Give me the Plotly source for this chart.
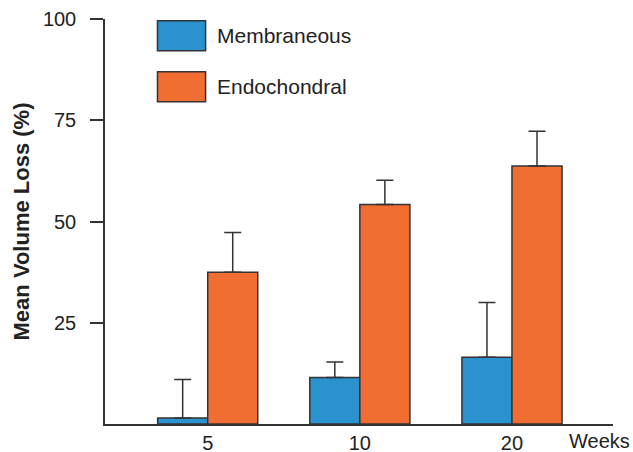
import plotly.graph_objects as go

weeks = ["5", "10", "20"]
series_names = ["Membraneous", "Endochondral"]
membraneous = [1.5, 11.5, 16.5]
membraneous_err = [9.5, 3.8, 13.5]
endochondral = [37.5, 54.2, 63.7]
endochondral_err = [9.8, 6.0, 8.6]
y_ticks = [25, 50, 75, 100]
x_unit_label = "Weeks"
y_title = "Mean Volume Loss (%)"

colors = ["#2A92CF", "#F06E31"]
edge = "#333333"
font_family = "Liberation Sans, Arial, Helvetica, sans-serif"
text_color = "#222222"

fig = go.Figure()
for name, vals, errs, col in [
    (series_names[0], membraneous, membraneous_err, colors[0]),
    (series_names[1], endochondral, endochondral_err, colors[1]),
]:
    fig.add_trace(go.Bar(
        name=name, x=weeks, y=vals,
        marker=dict(color=col, line=dict(color=edge, width=1.5)),
        error_y=dict(type="data", symmetric=False, array=errs,
                     arrayminus=[0] * len(errs),
                     color=edge, thickness=1.5, width=8.5),
        showlegend=False,
    ))

# Custom legend (large swatches)
sw_x0, sw_x1, txt_x = 0.1033, 0.198, 0.2165
rows = [(0.9958, 0.9217), (0.8699, 0.7958)]
for (y1, y0), name, col in zip(rows, series_names, colors):
    fig.add_shape(type="rect", xref="paper", yref="paper",
                  x0=sw_x0, x1=sw_x1, y0=y0, y1=y1,
                  fillcolor=col, line=dict(color=edge, width=1.5))
    fig.add_annotation(xref="paper", yref="paper", x=txt_x, y=(y0 + y1) / 2,
                       text=name, showarrow=False, xanchor="left", yanchor="middle",
                       font=dict(size=21, color=text_color, family=font_family))

fig.add_annotation(xref="paper", yref="paper", x=0.973, y=0, yshift=-17,
                   text=x_unit_label, showarrow=False, xanchor="center",
                   yanchor="middle",
                   font=dict(size=20, color=text_color, family=font_family))

fig.update_layout(
    width=633, height=452,
    margin=dict(l=105, r=20, t=19, b=28, autoexpand=False),
    paper_bgcolor="white", plot_bgcolor="white",
    barmode="group", bargap=0.342, bargroupgap=0,
    font=dict(family=font_family, size=20, color=text_color),
    xaxis=dict(type="category", range=[-0.675, 2.664], showline=True,
               linecolor=edge, linewidth=1.5, ticks="", showgrid=False,
               zeroline=False, tickfont=dict(size=20), automargin=False),
    yaxis=dict(range=[0, 100], tickvals=y_ticks, showline=True,
               linecolor=edge, linewidth=1.5, ticks="outside", ticklen=13,
               tickwidth=1.5, tickcolor=edge, showgrid=False, zeroline=False,
               tickfont=dict(size=20), automargin=False, ticklabelstandoff=10,
               title=dict(text="<b>" + y_title + "</b>", standoff=7,
                          font=dict(size=22, color=text_color))),
    yaxis2=dict(range=[0, 100], tickvals=y_ticks, overlaying="y", side="left",
                anchor="x", ticks="inside", ticklen=11, tickwidth=1.5,
                tickcolor=edge, showticklabels=False, showline=False,
                showgrid=False, zeroline=False),
)

fig.write_html("out.html", config={"displayModeBar": False},
               post_script="document.body.style.margin='0';")
